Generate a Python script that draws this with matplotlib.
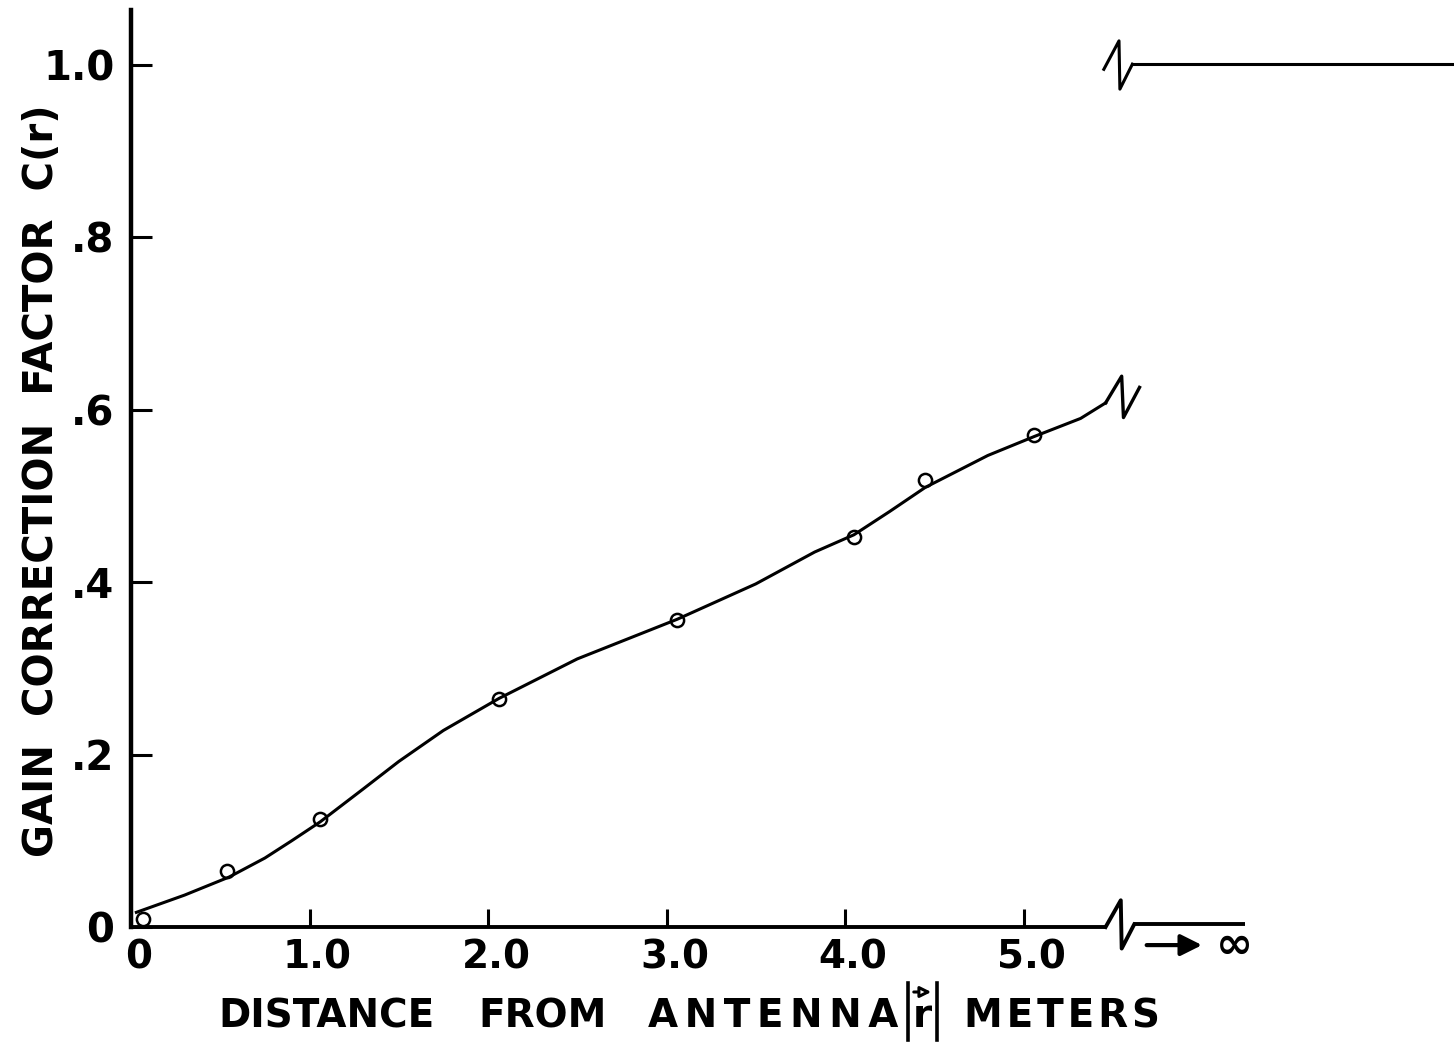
import matplotlib
matplotlib.use('Agg')
import matplotlib.pyplot as plt
from matplotlib.lines import Line2D
from matplotlib.patches import FancyArrowPatch
from matplotlib.transforms import ScaledTranslation

# ---- data ----
r_points = [0.07, 0.54, 1.06, 2.06, 3.06, 4.05, 4.45, 5.06]
c_points = [0.009, 0.065, 0.125, 0.264, 0.356, 0.453, 0.519, 0.571]

r_curve = [0.03, 0.30, 0.55, 0.75, 0.90, 1.06, 1.30, 1.50, 1.75, 2.06, 2.50,
           3.06, 3.50, 3.83, 4.05, 4.25, 4.45, 4.80, 5.06, 5.32, 5.46]
c_curve = [0.017, 0.037, 0.058, 0.080, 0.100, 0.122, 0.160, 0.192, 0.228, 0.265, 0.311,
           0.357, 0.398, 0.435, 0.455, 0.482, 0.510, 0.547, 0.569, 0.590, 0.608]

c_infinity = 1.0

x_ticks = [0, 1, 2, 3, 4, 5]
x_tick_labels = ['0', '1.0', '2.0', '3.0', '4.0', '5.0']
y_ticks = [0, 0.2, 0.4, 0.6, 0.8, 1.0]
y_tick_labels = ['0', '.2', '.4', '.6', '.8', '1.0']

y_label = 'GAIN  CORRECTION  FACTOR  C(r)'
x_label_words = ['DISTANCE', 'FROM', 'ANTENNA']
x_label_unit = 'METERS'

# ---- layout / style ----
W, H = 1454, 1048
X0_PX, Y0_PX = 131, 927
PX_PER_X, PX_PER_Y = 178.5, 862.0
BREAK_X = 5.46
FONT = dict(family='DejaVu Sans', weight='bold')

fig = plt.figure(figsize=(W / 100, H / 100), dpi=100)
ax = fig.add_axes([X0_PX / W, (H - Y0_PX) / H, (W - X0_PX) / W, (Y0_PX - 10) / H])
ax.set_xlim(0, (W - X0_PX) / PX_PER_X)
ax.set_ylim(0, (Y0_PX - 10) / PX_PER_Y)

for s in ['top', 'right', 'bottom']:
    ax.spines[s].set_visible(False)
ax.spines['left'].set_linewidth(3.2)

ax.set_xticks(x_ticks)
ax.set_xticklabels(x_tick_labels, fontsize=28, **FONT)
ax.set_yticks(y_ticks)
ax.set_yticklabels(y_tick_labels, fontsize=29, **FONT)
ax.tick_params(axis='y', direction='in', length=15, width=2.2, pad=12)
ax.tick_params(axis='x', direction='in', length=13, width=2.2, pad=8)
for lab in ax.get_xticklabels():
    lab.set_transform(lab.get_transform() + ScaledTranslation(8 / 100, 0, fig.dpi_scale_trans))

lw = 2.8
# x axis line up to the break
ax.plot([0, BREAK_X], [0, 0], color='black', lw=lw, clip_on=False, solid_capstyle='butt')

# break marks
zx = [0, 0.085, 0.09, 0.16]
zy = [0, 0.031, -0.025, 0.003]
ax.plot([BREAK_X + d for d in zx], [0 + d for d in zy], color='black', lw=lw, clip_on=False)
ax.plot([BREAK_X + zx[-1], 6.24], [zy[-1], zy[-1]], color='black', lw=lw, clip_on=False,
        solid_capstyle='butt')

# asymptote C -> 1 at infinity
ax.plot([BREAK_X - 0.01 + d for d in zx], [c_infinity - 0.005 + d for d in [0, 0.033, -0.023, 0.006]],
        color='black', lw=2.2, clip_on=False)
ax.plot([BREAK_X - 0.01 + zx[-1], ax.get_xlim()[1]], [c_infinity + 0.001, c_infinity + 0.001],
        color='black', lw=2.2, clip_on=False)

# data curve and points
ax.plot(r_curve, c_curve, color='black', lw=2.2, clip_on=False)
ax.plot([r_curve[-1] + d for d in [0, 0.09, 0.10, 0.19]],
        [c_curve[-1] + d for d in [0, 0.031, -0.017, 0.018]], color='black', lw=2.4, clip_on=False)
ax.plot(r_points, c_points, linestyle='none', marker='o', markersize=9.5, mfc='none',
        mec='black', mew=1.8, clip_on=False)

# arrow to infinity
ax.annotate('', xy=(6.0, -0.021), xytext=(5.69, -0.021),
            arrowprops=dict(arrowstyle='-|>', lw=3, mutation_scale=32, color='black',
                            shrinkA=0, shrinkB=0), annotation_clip=False)
ax.text(6.18, -0.021, '∞', fontsize=32, ha='center', va='center', clip_on=False, **FONT)

# y axis label
ax.set_ylabel(y_label, fontsize=29, **FONT)
ax.yaxis.set_label_coords(-0.052, 0.487)

# x axis label, built from pieces
def fx(px):
    return px / W

def fy(py):
    return 1 - py / H

def spaced(word, sp):
    return sp.join(word)

word_pos = [(218, 'left', ''), (478, 'left', ''), (898, 'right', '\u2006')]
for word, (px, ha, sp) in zip(x_label_words, word_pos):
    fig.text(fx(px), fy(1027), spaced(word, sp), ha=ha, va='baseline', fontsize=28, **FONT)
fig.text(fx(964), fy(1027), spaced(x_label_unit, '\u200a'), ha='left', va='baseline',
         fontsize=28, **FONT)
fig.text(fx(922), fy(1027), 'r', ha='center', va='baseline', fontsize=28, **FONT)
fig.add_artist(FancyArrowPatch(
    (fx(911), fy(992)), (fx(934), fy(992)), transform=fig.transFigure,
    arrowstyle='-|>', mutation_scale=16, lw=2.2, fc='white', ec='black'))
for bx in (908, 937):
    fig.add_artist(Line2D([fx(bx), fx(bx)], [fy(983), fy(1040)], color='black', lw=2.6))

fig.savefig('out.png', dpi=100)
